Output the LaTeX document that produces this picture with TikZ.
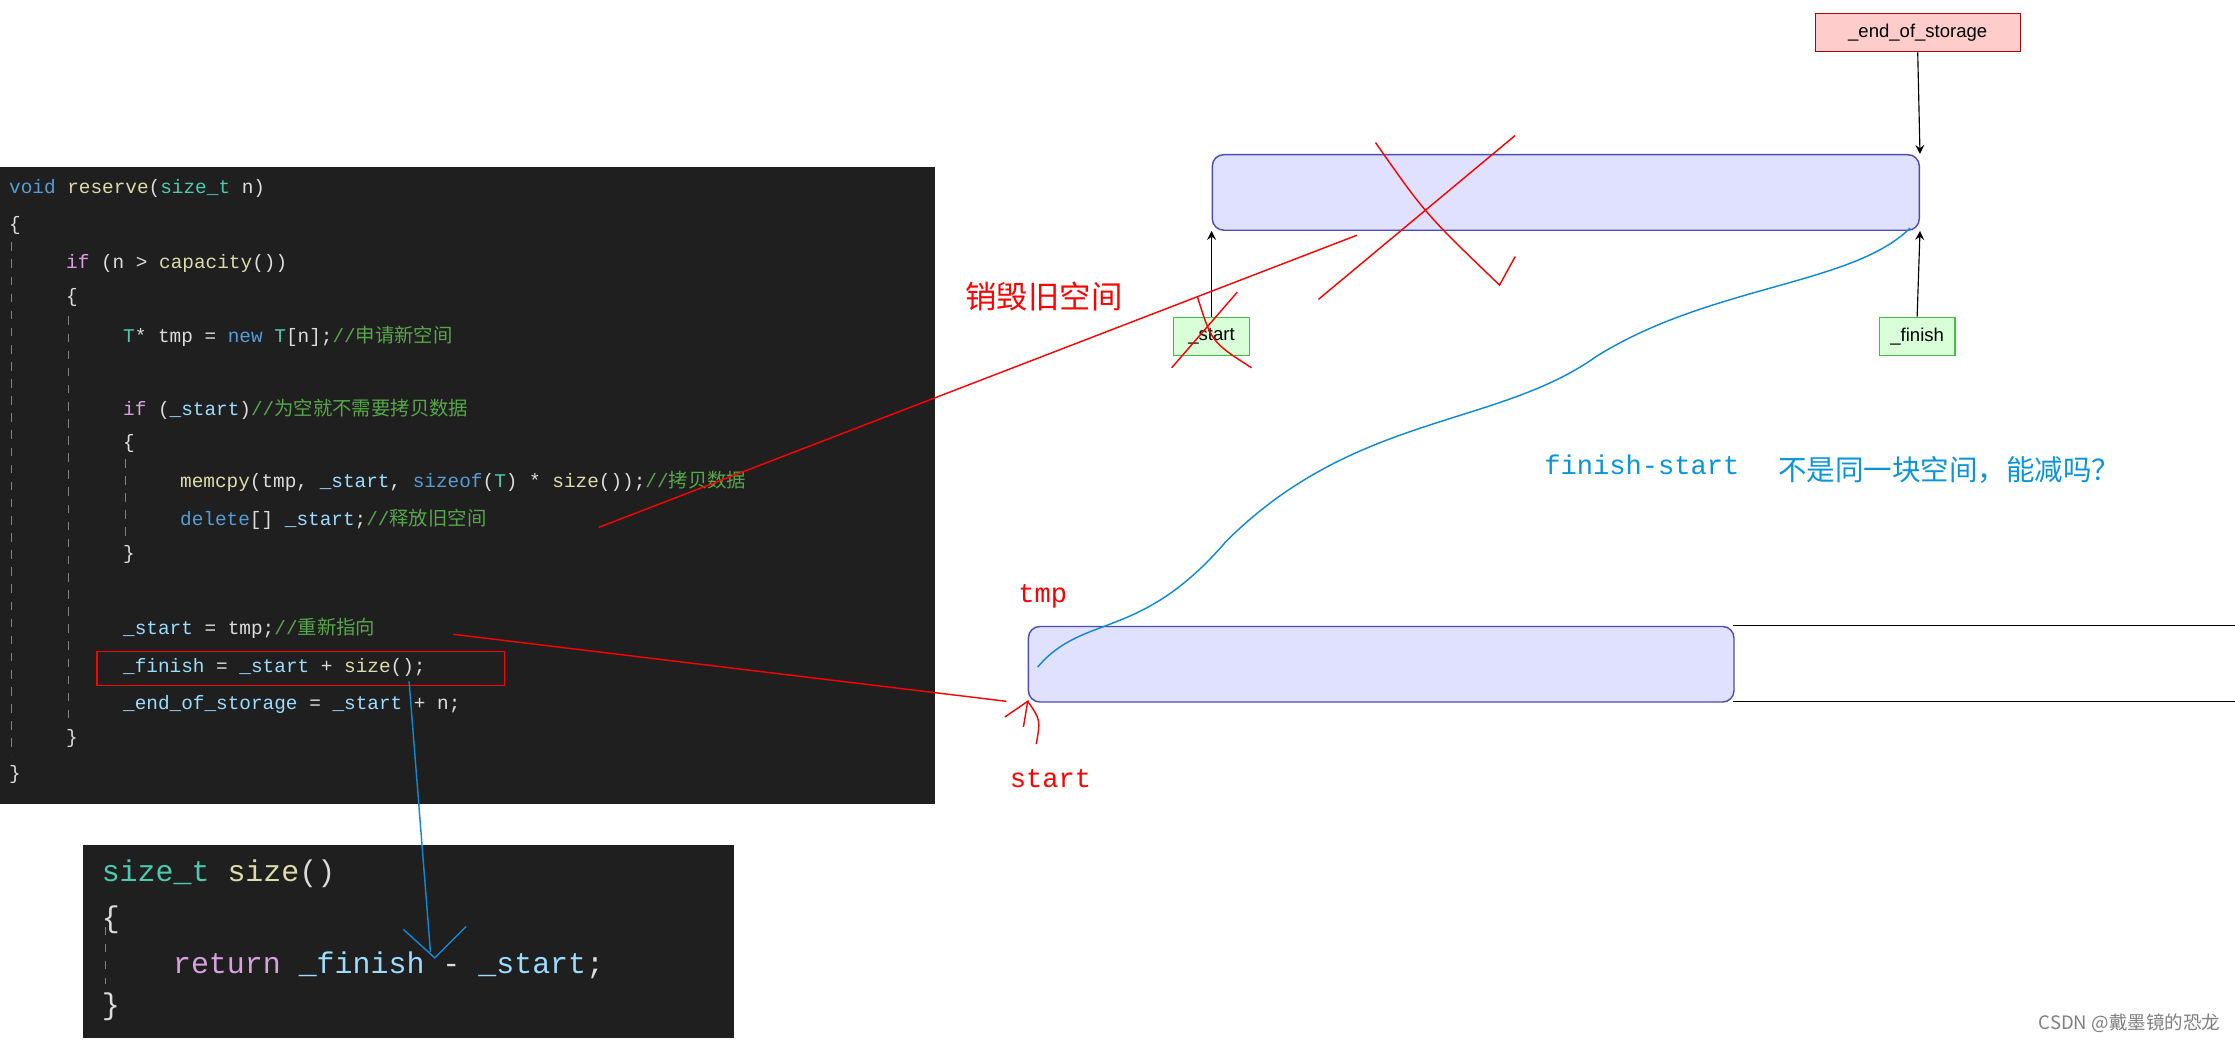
\documentclass[tikz,border=0pt]{standalone}
\usepackage{fontspec}
\setmainfont{Liberation Sans}
\setmonofont{Liberation Mono}
\newfontfamily\cjk{Noto Sans CJK SC}
\definecolor{kwc}{HTML}{569CD6}
\definecolor{tyc}{HTML}{4EC9B0}
\definecolor{fnc}{HTML}{DCDCAA}
\definecolor{cmc}{HTML}{57A64A}
\definecolor{ctc}{HTML}{D8A0DF}
\definecolor{txc}{HTML}{DCDCDC}
\definecolor{vrc}{HTML}{9CDCFE}
\newcommand\Kw[1]{\textcolor{kwc}{#1}}
\newcommand\Ty[1]{\textcolor{tyc}{#1}}
\newcommand\Fn[1]{\textcolor{fnc}{#1}}
\newcommand\Cm[1]{\textcolor{cmc}{#1}}
\newcommand\Ct[1]{\textcolor{ctc}{#1}}
\newcommand\Cz[1]{{\cjk #1}}
\begin{document}
\begin{tikzpicture}[x=0.5pt,y=-0.5pt,
  code/.style={anchor=west,inner sep=0,text=txc,font=\ttfamily\fontsize{6.8}{8}\selectfont},
  bigcode/.style={anchor=west,inner sep=0,text=txc,font=\ttfamily\fontsize{10.5}{12}\selectfont},
  mem/.style={draw=blue!40!gray,fill=blue!12,rounded corners=4pt,line width=0.5pt},
  ptr/.style={draw=green!50!gray,fill=green!15,font=\fontsize{6.5}{8}\selectfont,inner sep=0,minimum width=26.5pt,minimum height=13.5pt},
  redl/.style={draw=red,line width=0.5pt},
  bluel/.style={draw=cyan!70!blue,line width=0.5pt},
  guide/.style={draw=gray,dashed,line width=0.4pt}]
\useasboundingbox[fill=white] (0,0) rectangle (1568,730);
% code box
\fill[black!88] (0,117) rectangle (656,564);
\draw[guide] (8,170)--(8,530);
\draw[guide] (48,222)--(48,505);
\draw[guide] (88,322)--(88,378);
\node[code] (l1) at (6,132) {\Kw{void} \Fn{reserve}(\Ty{size\_t} n)};
\node[code] (l2) at (6,158) {\{};
\node[code] (l3) at (46,185) {\Ct{if} (n > \Fn{capacity}())};
\node[code] (l4) at (46,209) {\{};
\node[code] (l5) at (86,236) {\Ty{T}* tmp = \Kw{new} \Ty{T}[n];\Cm{//\Cz{申请新空间}}};
\node[code] (l6) at (86,287) {\Ct{if} (\textcolor{vrc}{\_start})\Cm{//\Cz{为空就不需要拷贝数据}}};
\node[code] (l7) at (86,311) {\{};
\node[code] (l8) at (126,338) {\Fn{memcpy}(tmp, \textcolor{vrc}{\_start}, \Kw{sizeof}(\Ty{T}) * \Fn{size}());\Cm{//\Cz{拷贝数据}}};
\node[code] (l9) at (126,364) {\Kw{delete}[] \textcolor{vrc}{\_start};\Cm{//\Cz{释放旧空间}}};
\node[code] (l10) at (86,389) {\}};
\node[code] (l11) at (86,441) {\textcolor{vrc}{\_start} = tmp;\Cm{//\Cz{重新指向}}};
\node[code] (l12) at (86,468) {\textcolor{vrc}{\_finish} = \textcolor{vrc}{\_start} + \Fn{size}();};
\node[code] (l13) at (86,494) {\textcolor{vrc}{\_end\_of\_storage} = \textcolor{vrc}{\_start} + n;};
\node[code] (l14) at (46,518) {\}};
\node[code] (l15) at (6,543) {\}};
\draw[redl] (68,457) rectangle (354,481);
% small code box
\fill[black!88] (58,593) rectangle (515,728);
\draw[guide] (74,650)--(74,690);
\node[bigcode] (s1) at (71,613) {\Ty{size\_t} \Fn{size}()};
\node[bigcode] (s2) at (71,645) {\{};
\node[bigcode] (s3) at (121,677) {\Ct{return} \textcolor{vrc}{\_finish} - \textcolor{vrc}{\_start};};
\node[bigcode] (s4) at (71,706) {\}};
% memory
\node[mem,minimum width=248pt,minimum height=26.5pt,anchor=north west] (old) at (850,108) {};
\node[draw=red!70!black,fill=red!20,font=\fontsize{6.5}{8}\selectfont,minimum width=72pt,minimum height=13.5pt,inner sep=0,anchor=north west] (eos) at (1273,9) {\_end\_of\_storage};
\node[ptr] (st) at (850,236) {\_start};
\node[ptr] (fi) at (1345,236) {\_finish};
\draw[-stealth] (eos.south) -- (old.north east);
\draw[-stealth] (st.north) -- (old.south west);
\draw[-stealth] (fi.north) -- (old.south east);
\node[mem,minimum width=247.5pt,minimum height=26.5pt,anchor=north west] (new) at (721,439) {};
\draw (1216,439)--(1568,439) (1216,492)--(1568,492);
% labels
\node[text=red,font=\cjk\fontsize{11}{13}\selectfont,anchor=west,inner sep=0] (t1) at (677,208) {销毁旧空间};
\node[text=red,font=\ttfamily\fontsize{9.5}{11}\selectfont,anchor=west,inner sep=0] (t2) at (714,418) {tmp};
\node[text=red,font=\ttfamily\fontsize{9.5}{11}\selectfont,anchor=west,inner sep=0] (t3) at (708,546) {start};
\node[text=cyan!80!blue,font=\ttfamily\fontsize{9.5}{11}\selectfont,anchor=west,inner sep=0] (t4) at (1083,326) {finish-start};
\node[text=cyan!80!blue,font=\cjk\fontsize{10}{12}\selectfont,anchor=west,inner sep=0] (t5) at (1247,330) {不是同一块空间，能减吗？};
\node[text=gray,font=\cjk\fontsize{6.5}{8}\selectfont,anchor=east,inner sep=0] (wm) at (1558,718) {CSDN @戴墨镜的恐龙};
% red strokes
\draw[redl] (420,370) -- (952,165);
\draw[redl] (925,210) -- (1063,95);
\draw[redl] (965,100) .. controls (1000,150) .. (1052,200) -- (1063,180);
\draw[redl] (822,258) -- (868,205);
\draw[redl] (840,208) .. controls (850,240) .. (878,258);
\draw[redl] (318,445) -- (706,492);
\draw[redl] (705,503) -- (721,492) -- (718,510);
\draw[redl] (721,492) .. controls (730,505) .. (727,522);
% blue strokes
\draw[bluel] (728,468) .. controls (760,430) and (800,450) .. (860,380)
  .. controls (950,290) and (1050,300) .. (1120,250)
  .. controls (1200,200) and (1300,200) .. (1340,160);
\draw[bluel] (287,478) -- (302,668);
\draw[bluel] (283,652) -- (305,672) -- (327,650);
\end{tikzpicture}
\end{document}
